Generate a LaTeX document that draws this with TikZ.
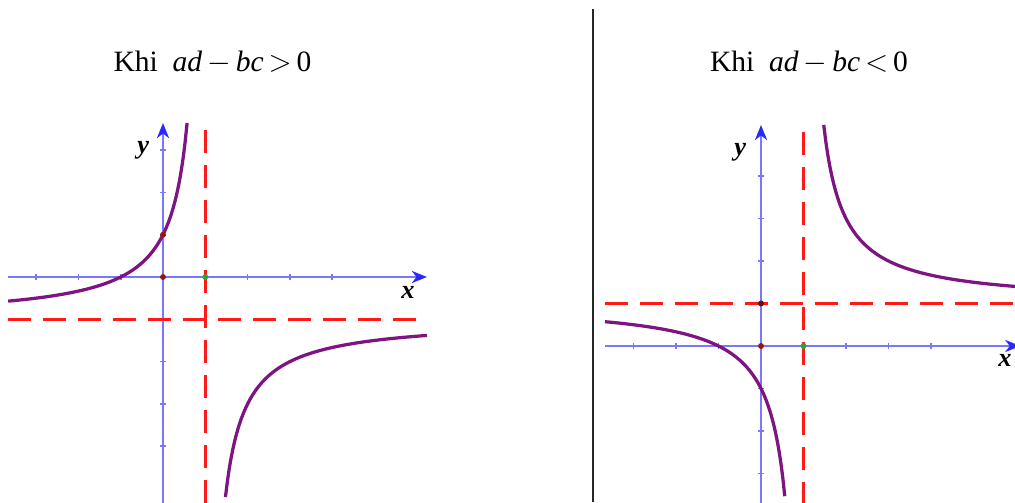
\documentclass[tikz,border=0pt]{standalone}
\usepackage{fontspec}
\setmainfont{Liberation Serif}
\usetikzlibrary{arrows.meta}
\definecolor{axisblue}{RGB}{120,120,255}
\definecolor{tipblue}{RGB}{40,40,255}
\definecolor{curvepurple}{RGB}{125,20,130}
\definecolor{asymred}{RGB}{255,25,25}
\definecolor{dotred}{RGB}{150,20,20}
\definecolor{dotgreen}{RGB}{40,170,40}

\begin{document}
\begin{tikzpicture}[
    axis/.style={axisblue,line width=0.05cm,-{Stealth[length=0.3cm,width=0.24cm,inset=0.09cm,color=tipblue]}},
    asym/.style={asymred,line width=0.065cm,dash pattern=on 0.46cm off 0.24cm},
    graph/.style={curvepurple,line width=0.065cm,smooth,samples=90},
    tickmark/.style={axisblue,line width=0.035cm},
    title/.style={font=\fontsize{16.8}{19}\selectfont,anchor=base},
    axlabel/.style={font=\fontsize{15}{17}\selectfont\bfseries\itshape}
  ]
  \useasboundingbox (0,0) rectangle (20.3,10.04);
  \clip (0,0) rectangle (20.3,10.04);
  \def\tk{0.07}

  % titles and divider
  \node[title] (titleL) at (4.25,8.6) {Khi\ \ \textit{ad}\,$-$\,\textit{bc}\,$>$\,0};
  \node[title] (titleR) at (16.18,8.6) {Khi\ \ \textit{ad}\,$-$\,\textit{bc}\,$<$\,0};
  \draw[black!85,line width=0.04cm] (11.86,9.86) -- (11.86,0);

  % ad-bc > 0 : y = (-x-1)/(x-1)
  \begin{scope}[shift={(3.26,4.50)},x=0.846cm,y=0.846cm]
    \draw[axis] (-3.66,0) -- (6.24,0);
    \draw[axis] (0,-5.4) -- (0,3.64);
    \foreach \t in {-3,-2,-1,1,2,3,4}
      \draw[tickmark] (\t,-\tk) -- (\t,\tk);
    \foreach \t in {-4,-3,-2,-1,1,2,3}
      \draw[tickmark] (-\tk,\t) -- (\tk,\t);
    \draw[asym] (1,3.47) -- (1,-5.4);
    \draw[asym] (-3.66,-1) -- (6.24,-1);
    \draw[graph,domain=-3.66:0.569] plot (\x,{-1-2/(\x-1)});
    \draw[graph,domain=1.476:6.24] plot (\x,{-1-2/(\x-1)});
    \fill[dotred] (0,0) circle (0.07);
    \fill[dotred] (0,1) circle (0.07);
    \fill[dotgreen] (1,0) circle (0.07);
    \node[axlabel] (xL) at (5.79,-0.36) {x};
    \node[axlabel] (yL) at (-0.47,3.0) {y};
  \end{scope}

  % ad-bc < 0 : y = (x+1)/(x-1)
  \begin{scope}[shift={(15.22,3.12)},x=0.85cm,y=0.85cm]
    \draw[axis] (-3.67,0) -- (6.1,0);
    \draw[axis] (0,-3.8) -- (0,5.2);
    \foreach \t in {-3,-2,-1,1,2,3,4}
      \draw[tickmark] (\t,-\tk) -- (\t,\tk);
    \foreach \t in {-3,-2,-1,1,2,3,4}
      \draw[tickmark] (-\tk,\t) -- (\tk,\t);
    \draw[asym] (1,5.04) -- (1,-3.8);
    \draw[asym] (-3.67,1) -- (6.2,1);
    \draw[graph,domain=-3.67:0.56] plot (\x,{1+2/(\x-1)});
    \draw[graph,domain=1.476:6.2] plot (\x,{1+2/(\x-1)});
    \fill[dotred] (0,0) circle (0.07);
    \fill[dotred!70!black] (0,1) circle (0.07);
    \fill[dotgreen] (1,0) circle (0.07);
    \node[axlabel] (xR) at (5.74,-0.34) {x};
    \node[axlabel] (yR) at (-0.49,4.56) {y};
  \end{scope}
\end{tikzpicture}
\end{document}
